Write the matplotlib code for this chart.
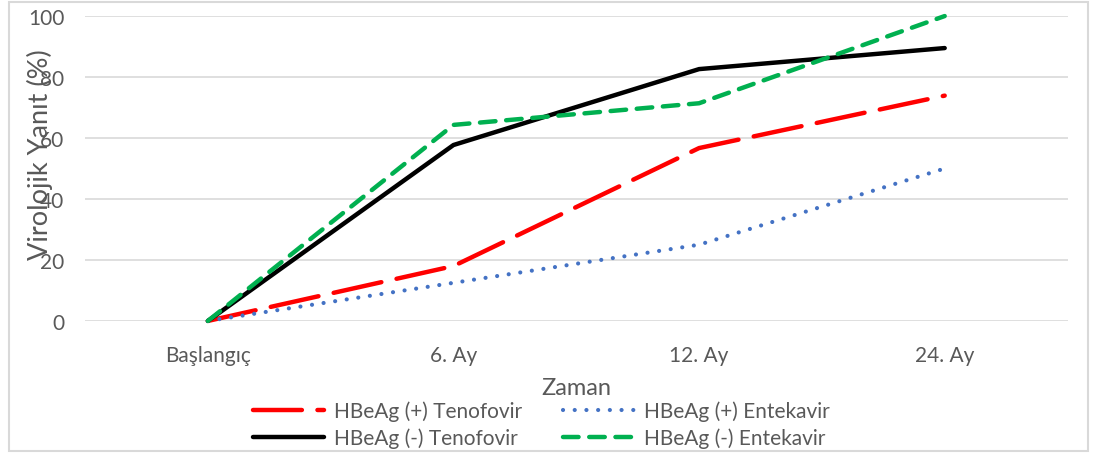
import matplotlib
matplotlib.use("Agg")
import matplotlib.pyplot as plt
from matplotlib.patches import Rectangle

# Virolojik yanit verileri (%)
zaman = ["Başlangıç", "6. Ay", "12. Ay", "24. Ay"]
pos_tenofovir = [0, 18, 56.7, 73.9]
pos_entekavir = [0, 12.5, 25, 50]
neg_tenofovir = [0, 57.7, 82.6, 89.5]
neg_entekavir = [0, 64.3, 71.4, 100]

plt.rcParams['font.family'] = ['Lato', 'DejaVu Sans']
gray = "#595959"

fig = plt.figure(figsize=(10.96, 4.56), dpi=100)
ax = fig.add_axes([0.0776, 0.294, 0.8964, 0.6686])

x = range(len(zaman))
ax.plot(x, pos_tenofovir, color="#ff0000", lw=3.2, dashes=(11, 3.5),
        dash_capstyle="round", label="HBeAg (+) Tenofovir", clip_on=False, zorder=3)
ax.plot(x, neg_tenofovir, color="black", lw=3.2, solid_capstyle="round",
        label="HBeAg (-) Tenofovir", clip_on=False, zorder=3)
ax.plot(x, pos_entekavir, color="#4472c4", lw=3.0, dashes=(0.01, 2.8),
        dash_capstyle="round", label="HBeAg (+) Entekavir", clip_on=False, zorder=3)
ax.plot(x, neg_entekavir, color="#00b050", lw=3.2, dashes=(3.5, 2.4),
        dash_capstyle="round", label="HBeAg (-) Entekavir", clip_on=False, zorder=3)

ax.set_xlim(-0.5, 3.5)
ax.set_ylim(0, 100)
ax.set_yticks(range(0, 101, 20))
ax.set_xticks(list(x))
ax.set_xticklabels(zaman)
ax.grid(axis="y", color="#d9d9d9", lw=1.2)
ax.set_axisbelow(True)
for s in ax.spines.values():
    s.set_visible(False)
ax.tick_params(length=0, labelsize=15, colors=gray)
ax.tick_params(axis="y", pad=15)
ax.tick_params(axis="x", pad=17)

fig.text(0.036, 0.66, "Virolojik Yanıt (%)", rotation=90, ha="center", va="center",
         fontsize=19.5, color=gray)
fig.text(0.526, 0.148, "Zaman", ha="center", va="center", fontsize=17, color=gray)

h, l = ax.get_legend_handles_labels()
fig.legend(h, l, ncol=2, loc="center", bbox_to_anchor=(0.494, 0.067), frameon=False,
           fontsize=15, labelcolor=gray, handlelength=3.4, handletextpad=0.45,
           columnspacing=2.0, labelspacing=0.3)

fig.patches.append(Rectangle((0.008, 0.008), 0.985, 0.985, transform=fig.transFigure,
                             fill=False, edgecolor="#d9d9d9", lw=1.5))

fig.savefig("out.png", dpi=100)
